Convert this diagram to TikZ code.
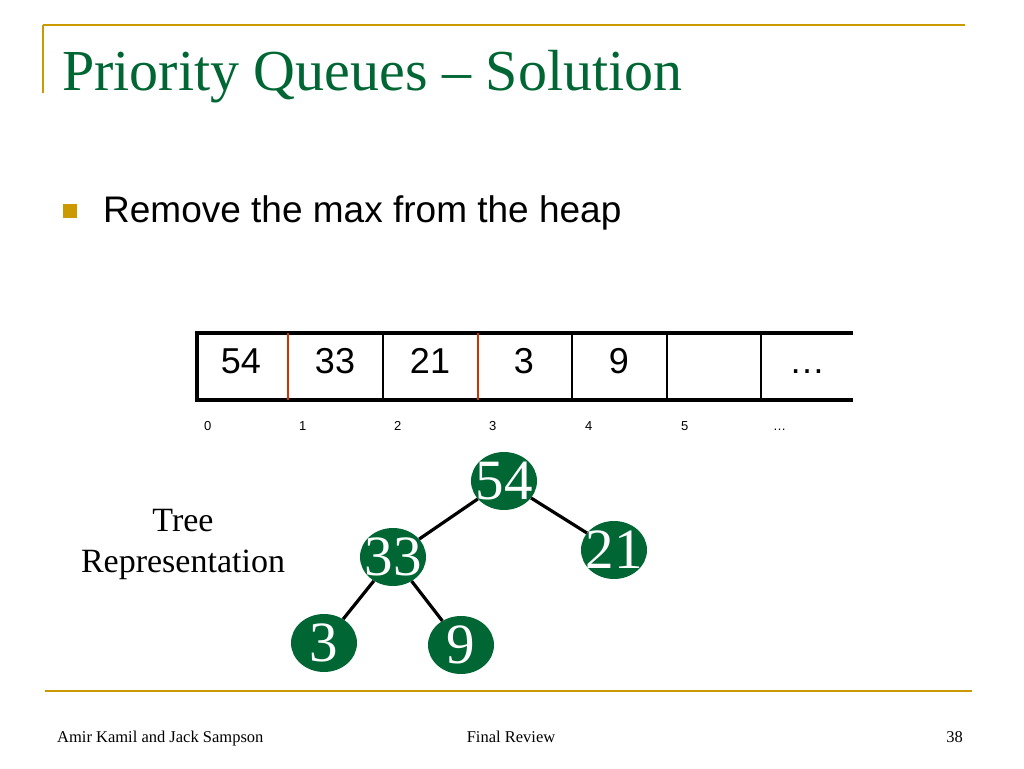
\documentclass[tikz,border=0pt]{standalone}
\usepackage{fontspec}
\setmainfont{Liberation Serif}
\newfontfamily\arialf{Liberation Sans}
\usetikzlibrary{shapes.geometric}
\definecolor{gold}{RGB}{204,153,0}
\definecolor{dgreen}{RGB}{0,102,51}
\definecolor{redline}{RGB}{204,51,0}
\begin{document}
\begin{tikzpicture}[x=1pt,y=-1pt,
  titlestyle/.style={anchor=base west,text=dgreen,font=\fontsize{58}{62}\selectfont,inner sep=0pt},
  bodystyle/.style={anchor=base west,font=\arialf\fontsize{37}{42}\selectfont,inner sep=0pt},
  cellval/.style={anchor=base,font=\arialf\fontsize{36}{40}\selectfont,inner sep=0pt},
  idxstyle/.style={anchor=base west,font=\arialf\fontsize{13}{15}\selectfont,inner sep=0pt},
  heapnode/.style={ellipse,fill=dgreen,minimum width=66pt,minimum height=58pt,inner sep=0pt,
                   label={[text=white,font=\fontsize{57}{57}\selectfont,inner sep=0pt]center:#1}},
  heapedge/.style={line width=3.2pt,black},
  footstyle/.style={anchor=base,font=\fontsize{16.5}{18}\selectfont,inner sep=0pt},
  thickrule/.style={line width=3.5pt,black},
  thinrule/.style={line width=1.3pt,black},
  redrule/.style={line width=2.5pt,redline}]
\useasboundingbox (0,0) rectangle (1024,768);
\fill[white] (0,0) rectangle (1024,768);

% header rules
\draw[gold,line width=2pt] (43,25) -- (965,25);
\draw[gold,line width=2pt] (43,25) -- (43,93);
\node[titlestyle] (title) at (62,90) {Priority Queues – Solution};

% bullet
\fill[gold] (63,204) rectangle (77,218);
\node[bodystyle] (bullet) at (103,222) {Remove the max from the heap};

% array
\draw[thickrule] (853,333) -- (197,333) -- (197,400) -- (853,400);
\draw[redrule] (288,333) -- (288,400);
\draw[thinrule] (383,333) -- (383,400);
\draw[redrule] (478,333) -- (478,400);
\draw[thinrule] (572,333) -- (572,400);
\draw[thinrule] (667,333) -- (667,400);
\draw[thinrule] (761,333) -- (761,400);
\node[cellval] (v0) at (241,373) {54};
\node[cellval] (v1) at (335,373) {33};
\node[cellval] (v2) at (430,373) {21};
\node[cellval] (v3) at (524,373) {3};
\node[cellval] (v4) at (619,373) {9};
\node[cellval] (v6) at (807,373) {…};

\node[idxstyle] (i0) at (204,430) {0};
\node[idxstyle] (i1) at (299,430) {1};
\node[idxstyle] (i2) at (394,430) {2};
\node[idxstyle] (i3) at (489,430) {3};
\node[idxstyle] (i4) at (585,430) {4};
\node[idxstyle] (i5) at (681,430) {5};
\node[idxstyle] (i6) at (773,430) {…};

% tree label
\node[font=\fontsize{34}{41}\selectfont,align=center,inner sep=0pt] (lbl) at (183,544) {Tree\\Representation};

% heap tree
\node[heapnode=54] (n54) at (504,481) {};
\node[heapnode=33] (n33) at (393,557) {};
\node[heapnode=21] (n21) at (614,550) {};
\node[heapnode=3] (n3) at (324,643) {};
\node[heapnode=9] (n9) at (461,645) {};
\draw[heapedge] (n54) -- (n33);
\draw[heapedge] (n54) -- (n21);
\draw[heapedge] (n33) -- (n3);
\draw[heapedge] (n33) -- (n9);

% footer
\draw[gold,line width=2pt] (45,691) -- (972,691);
\node[footstyle,anchor=base west] (f1) at (57,742) {Amir Kamil and Jack Sampson};
\node[footstyle] (f2) at (511,742) {Final Review};
\node[footstyle,anchor=base east] (f3) at (963,742) {38};
\end{tikzpicture}
\end{document}
